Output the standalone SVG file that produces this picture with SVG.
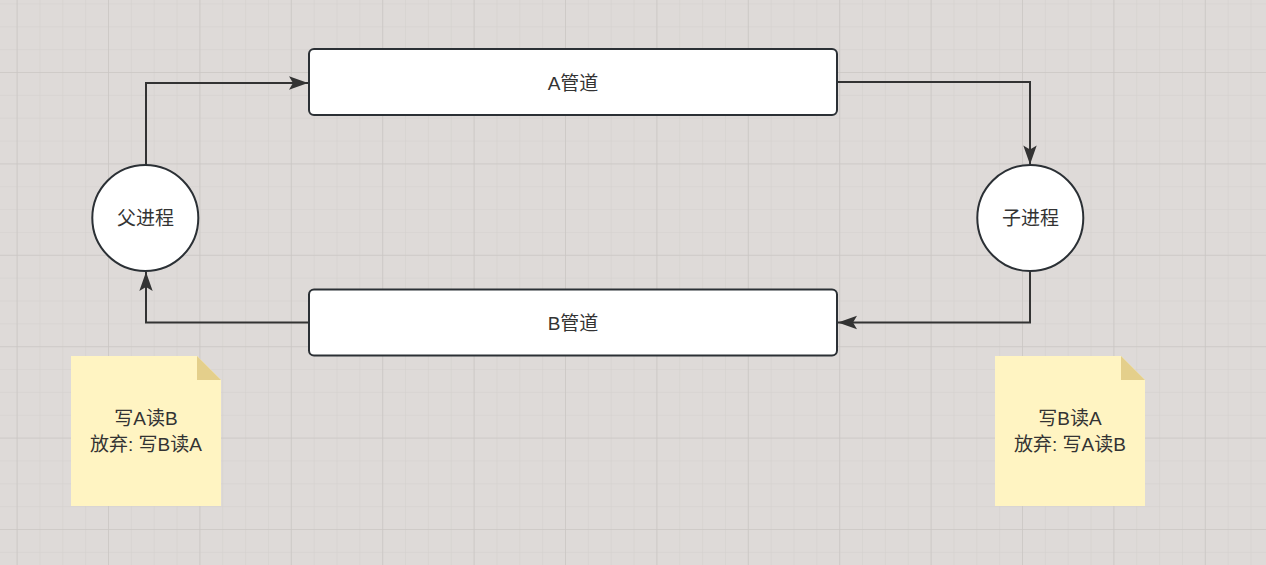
<svg xmlns="http://www.w3.org/2000/svg" width="1266" height="565" viewBox="0 0 1266 565">
  <style>
    .txt { font-family: "Liberation Sans", "Noto Sans CJK SC", sans-serif; font-size: 19px; fill: #333333; text-anchor: middle; dominant-baseline: central; }
    .box { fill: #ffffff; stroke: #2b3035; stroke-width: 2; }
    .conn { fill: none; stroke: #333333; stroke-width: 2; }
    .note { fill: #fff4c2; }
    .fold { fill: #e4cf8b; }
  </style>
  <defs>
    <pattern id="minor" x="16.6" y="-19.4" width="22.85" height="22.85" patternUnits="userSpaceOnUse">
      <path d="M0,0 H22.85 M0,0 V22.85" stroke="#d4d0ce" stroke-width="1.2" fill="none"/>
    </pattern>
    <pattern id="major" x="16.6" y="-19.4" width="91.4" height="91.4" patternUnits="userSpaceOnUse">
      <path d="M0,0 H91.4 M0,0 V91.4" stroke="#cbc7c5" stroke-width="1.6" fill="none"/>
    </pattern>
    <marker id="arrow" viewBox="-20 -8 22 16" refX="0" refY="0" markerWidth="22" markerHeight="16" markerUnits="userSpaceOnUse" orient="auto">
      <path d="M0,0 L-19,-6.7 L-15,0 L-19,6.7 Z" fill="#333333"/>
    </marker>
  </defs>
  <rect width="1266" height="565" fill="#dedad8"/>
  <rect width="1266" height="565" fill="url(#minor)"/>
  <rect width="1266" height="565" fill="url(#major)"/>

  <g id="connectors">
    <path class="conn" d="M146,165 V83 H308" marker-end="url(#arrow)"/>
    <path class="conn" d="M837,82 H1030 V164.5" marker-end="url(#arrow)"/>
    <path class="conn" d="M1030,271 V322.5 H838" marker-end="url(#arrow)"/>
    <path class="conn" d="M309,322.5 H146 V272" marker-end="url(#arrow)"/>
  </g>

  <g id="pipeA">
    <rect class="box" x="309" y="49" width="528" height="66" rx="5"/>
    <text class="txt" x="573" y="83">A管道</text>
  </g>
  <g id="pipeB">
    <rect class="box" x="309" y="289.5" width="528" height="66" rx="5"/>
    <text class="txt" x="573" y="323">B管道</text>
  </g>
  <g id="parent">
    <circle class="box" cx="145.3" cy="218" r="53"/>
    <text class="txt" x="145.5" y="218">父进程</text>
  </g>
  <g id="child">
    <circle class="box" cx="1030.3" cy="218" r="53"/>
    <text class="txt" x="1030.5" y="218">子进程</text>
  </g>
  <g id="noteLeft">
    <path class="note" d="M71,356 H197 L221,380 V506 H71 Z"/>
    <path class="fold" d="M197,356 L221,380 H197 Z"/>
    <text class="txt" x="146" y="418">写A读B</text>
    <text class="txt" x="146" y="444">放弃: 写B读A</text>
  </g>
  <g id="noteRight">
    <path class="note" d="M995,356 H1121 L1145,380 V506 H995 Z"/>
    <path class="fold" d="M1121,356 L1145,380 H1121 Z"/>
    <text class="txt" x="1070" y="418">写B读A</text>
    <text class="txt" x="1070" y="444">放弃: 写A读B</text>
  </g>
</svg>
